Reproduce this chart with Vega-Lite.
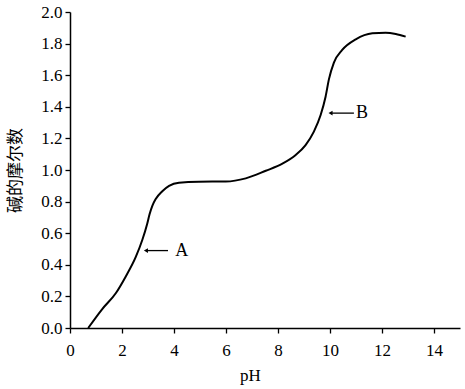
{
  "$schema": "https://vega.github.io/schema/vega-lite/v6.json",
  "width": 390,
  "height": 316,
  "autosize": {"type": "none"},
  "padding": {"left": 70, "top": 12, "right": 5, "bottom": 61},
  "background": "white",
  "config": {
    "view": {"stroke": null},
    "axis": {
      "domainColor": "black",
      "domainWidth": 1.5,
      "tickColor": "black",
      "tickWidth": 1.3,
      "tickSize": 5,
      "grid": false,
      "labelFont": "Liberation Serif",
      "labelFontSize": 17,
      "labelColor": "black",
      "titleColor": "black",
      "titleFontWeight": "normal"
    }
  },
  "datasets": {
    "curve": [
      {"pH": 0.7, "mol": 0.0},
      {"pH": 1.24, "mol": 0.12},
      {"pH": 1.76, "mol": 0.22},
      {"pH": 2.14, "mol": 0.325},
      {"pH": 2.53, "mol": 0.45},
      {"pH": 2.78, "mol": 0.557},
      {"pH": 2.97, "mol": 0.66},
      {"pH": 3.06, "mol": 0.72},
      {"pH": 3.17, "mol": 0.775},
      {"pH": 3.29, "mol": 0.815},
      {"pH": 3.55, "mol": 0.866},
      {"pH": 3.81, "mol": 0.9},
      {"pH": 4.19, "mol": 0.92},
      {"pH": 4.96, "mol": 0.926},
      {"pH": 5.99, "mol": 0.927},
      {"pH": 6.76, "mol": 0.947},
      {"pH": 7.53, "mol": 0.995},
      {"pH": 8.17, "mol": 1.04},
      {"pH": 8.68, "mol": 1.095},
      {"pH": 9.06, "mol": 1.158},
      {"pH": 9.38, "mol": 1.243},
      {"pH": 9.64, "mol": 1.348},
      {"pH": 9.83, "mol": 1.464},
      {"pH": 9.96, "mol": 1.575},
      {"pH": 10.15, "mol": 1.68},
      {"pH": 10.47, "mol": 1.76},
      {"pH": 10.99, "mol": 1.827},
      {"pH": 11.63, "mol": 1.865},
      {"pH": 12.14, "mol": 1.869},
      {"pH": 12.53, "mol": 1.861},
      {"pH": 12.91, "mol": 1.844}
    ],
    "notes": [
      {"tip": 2.92, "tail": 3.77, "mol": 0.49, "textX": 4.3, "label": "A"},
      {"tip": 10.02, "tail": 10.92, "mol": 1.36, "textX": 11.23, "label": "B"}
    ]
  },
  "encoding": {
    "y": {
      "field": "mol", "type": "quantitative",
      "scale": {"domain": [0, 2], "nice": false},
      "axis": {
        "values": [0, 0.2, 0.4, 0.6, 0.8, 1, 1.2, 1.4, 1.6, 1.8, 2],
        "tickCount": 11,
        "format": ".1f",
        "title": "碱的摩尔数",
        "titleFont": "Noto Sans CJK SC",
        "titleFontSize": 17,
        "titleX": -55,
        "titleY": 158,
        "titleBaseline": "middle",
        "labelPadding": 3,
        "labelOverlap": false,
        "labelFlush": false,
        "labelBound": false
      }
    }
  },
  "layer": [
    {
      "data": {"name": "curve"},
      "mark": {"type": "line", "color": "black", "strokeWidth": 2, "interpolate": "monotone"},
      "encoding": {
        "x": {
          "field": "pH", "type": "quantitative",
          "scale": {"domain": [0, 15], "nice": false},
          "axis": {
            "values": [0, 2, 4, 6, 8, 10, 12, 14],
            "title": "pH",
            "titleFont": "Liberation Serif",
            "titleFontSize": 17,
            "titleX": 180,
            "titleY": 47,
            "titleBaseline": "middle",
            "labelPadding": 9,
            "labelOverlap": false,
            "labelFlush": false,
            "labelBound": false
          }
        }
      }
    },
    {
      "data": {"name": "notes"},
      "mark": {"type": "rule", "color": "black", "strokeWidth": 1.3},
      "encoding": {
        "x": {"field": "tip", "type": "quantitative"},
        "x2": {"field": "tail"}
      }
    },
    {
      "data": {"name": "notes"},
      "mark": {"type": "point", "shape": "triangle-left", "filled": true, "color": "black", "size": 22, "opacity": 1},
      "encoding": {
        "x": {"field": "tip", "type": "quantitative"}
      }
    },
    {
      "data": {"name": "notes"},
      "mark": {"type": "text", "font": "Liberation Serif", "fontSize": 18, "color": "black", "align": "center", "baseline": "middle"},
      "encoding": {
        "x": {"field": "textX", "type": "quantitative"},
        "text": {"field": "label"}
      }
    }
  ]
}
